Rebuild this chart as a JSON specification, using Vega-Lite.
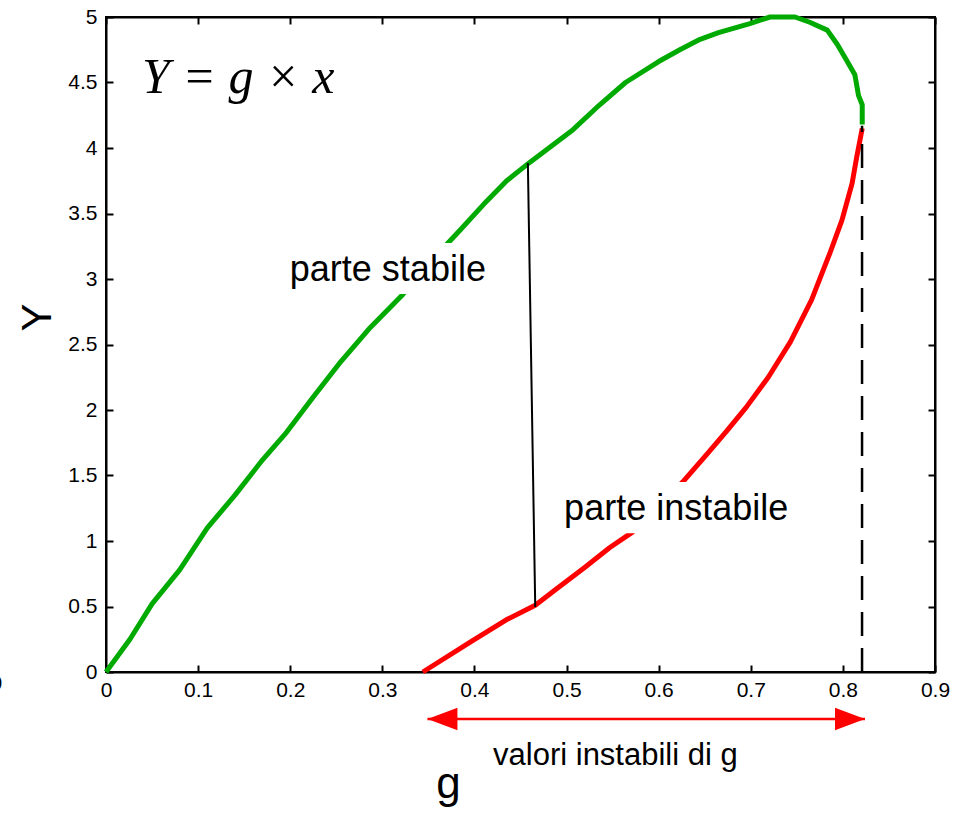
{
  "$schema": "https://vega.github.io/schema/vega-lite/v6.json",
  "autosize": "none",
  "width": 829,
  "height": 655,
  "padding": {"left": 106, "top": 17, "right": 35, "bottom": 143},
  "background": "white",
  "config": {
    "view": {"stroke": "black", "strokeWidth": 2},
    "font": "Liberation Sans",
    "axis": {
      "grid": false,
      "domainColor": "black",
      "domainWidth": 2,
      "tickColor": "black",
      "tickWidth": 2,
      "labelColor": "black",
      "labelFont": "Liberation Sans",
      "labelFontSize": 21,
      "labelFlush": false,
      "titleFont": "Liberation Sans",
      "titleFontWeight": "normal",
      "titleColor": "black"
    }
  },
  "datasets": {
    "curve": [
      {"part": "stabile", "ord": 0, "g": 0.0, "Y": 0.0},
      {"part": "stabile", "ord": 1, "g": 0.026, "Y": 0.25},
      {"part": "stabile", "ord": 2, "g": 0.05, "Y": 0.52},
      {"part": "stabile", "ord": 3, "g": 0.08, "Y": 0.78},
      {"part": "stabile", "ord": 4, "g": 0.11, "Y": 1.1},
      {"part": "stabile", "ord": 5, "g": 0.14, "Y": 1.35},
      {"part": "stabile", "ord": 6, "g": 0.17, "Y": 1.62},
      {"part": "stabile", "ord": 7, "g": 0.196, "Y": 1.83},
      {"part": "stabile", "ord": 8, "g": 0.225, "Y": 2.1},
      {"part": "stabile", "ord": 9, "g": 0.255, "Y": 2.37},
      {"part": "stabile", "ord": 10, "g": 0.287, "Y": 2.63},
      {"part": "stabile", "ord": 11, "g": 0.322, "Y": 2.88},
      {"part": "stabile", "ord": 12, "g": 0.352, "Y": 3.13},
      {"part": "stabile", "ord": 13, "g": 0.384, "Y": 3.37},
      {"part": "stabile", "ord": 14, "g": 0.41, "Y": 3.57},
      {"part": "stabile", "ord": 15, "g": 0.435, "Y": 3.75},
      {"part": "stabile", "ord": 16, "g": 0.46, "Y": 3.89},
      {"part": "stabile", "ord": 17, "g": 0.507, "Y": 4.14},
      {"part": "stabile", "ord": 18, "g": 0.536, "Y": 4.33},
      {"part": "stabile", "ord": 19, "g": 0.564, "Y": 4.5},
      {"part": "stabile", "ord": 20, "g": 0.6, "Y": 4.66},
      {"part": "stabile", "ord": 21, "g": 0.623, "Y": 4.75},
      {"part": "stabile", "ord": 22, "g": 0.645, "Y": 4.83},
      {"part": "stabile", "ord": 23, "g": 0.665, "Y": 4.88},
      {"part": "stabile", "ord": 24, "g": 0.699, "Y": 4.95},
      {"part": "stabile", "ord": 25, "g": 0.721, "Y": 5.0},
      {"part": "stabile", "ord": 26, "g": 0.748, "Y": 5.0},
      {"part": "stabile", "ord": 27, "g": 0.764, "Y": 4.96},
      {"part": "stabile", "ord": 28, "g": 0.783, "Y": 4.9},
      {"part": "stabile", "ord": 29, "g": 0.794, "Y": 4.79},
      {"part": "stabile", "ord": 30, "g": 0.804, "Y": 4.67},
      {"part": "stabile", "ord": 31, "g": 0.813, "Y": 4.56},
      {"part": "stabile", "ord": 32, "g": 0.817, "Y": 4.4},
      {"part": "stabile", "ord": 33, "g": 0.821, "Y": 4.33},
      {"part": "stabile", "ord": 34, "g": 0.821, "Y": 4.18},
      {"part": "instabile", "ord": 0, "g": 0.344, "Y": 0.0},
      {"part": "instabile", "ord": 1, "g": 0.398, "Y": 0.24},
      {"part": "instabile", "ord": 2, "g": 0.435, "Y": 0.4},
      {"part": "instabile", "ord": 3, "g": 0.466, "Y": 0.51},
      {"part": "instabile", "ord": 4, "g": 0.49, "Y": 0.64},
      {"part": "instabile", "ord": 5, "g": 0.52, "Y": 0.8},
      {"part": "instabile", "ord": 6, "g": 0.547, "Y": 0.95},
      {"part": "instabile", "ord": 7, "g": 0.572, "Y": 1.07},
      {"part": "instabile", "ord": 8, "g": 0.626, "Y": 1.45},
      {"part": "instabile", "ord": 9, "g": 0.652, "Y": 1.66},
      {"part": "instabile", "ord": 10, "g": 0.674, "Y": 1.84},
      {"part": "instabile", "ord": 11, "g": 0.695, "Y": 2.02},
      {"part": "instabile", "ord": 12, "g": 0.719, "Y": 2.25},
      {"part": "instabile", "ord": 13, "g": 0.743, "Y": 2.52},
      {"part": "instabile", "ord": 14, "g": 0.766, "Y": 2.84},
      {"part": "instabile", "ord": 15, "g": 0.786, "Y": 3.2},
      {"part": "instabile", "ord": 16, "g": 0.799, "Y": 3.45},
      {"part": "instabile", "ord": 17, "g": 0.81, "Y": 3.73},
      {"part": "instabile", "ord": 18, "g": 0.815, "Y": 3.93},
      {"part": "instabile", "ord": 19, "g": 0.821, "Y": 4.15}
    ],
    "link": [{"g": 0.458, "Y": 3.885, "g2": 0.466, "Y2": 0.496}],
    "limit": [{"g": 0.8208, "Y": 0, "Y2": 4.17}],
    "boxes": [
      {"g": 0.198, "g2": 0.418, "Y": 2.885, "Y2": 3.275},
      {"g": 0.49, "g2": 0.75, "Y": 1.06, "Y2": 1.45}
    ],
    "labels": [
      {"text": "parte stabile", "g": 0.306, "Y": 2.985},
      {"text": "parte instabile", "g": 0.619, "Y": 1.16}
    ],
    "range": [{"g": 0.349, "g2": 0.824, "Y": -0.359}],
    "heads": [
      {"side": "left", "g": 0.349, "Y": -0.359},
      {"side": "right", "g": 0.824, "Y": -0.359}
    ],
    "rangeLabel": [{"text": "valori instabili di g", "g": 0.553, "Y": -0.71}],
    "stray": [{"text": "0", "g": -0.119, "Y": -0.09}],
    "formula": [{"text": "Y = g × x", "g": 0.039, "Y": 4.42}]
  },
  "resolve": {"scale": {"x": "shared", "y": "shared"}, "axis": {"x": "independent", "y": "independent"}},
  "layer": [
    {
      "data": {"name": "curve"},
      "mark": {"type": "line", "strokeWidth": 5, "strokeJoin": "round"},
      "encoding": {
        "x": {
          "field": "g", "type": "quantitative",
          "scale": {"domain": [0, 0.9], "nice": false, "zero": false},
          "axis": {
            "orient": "bottom",
            "values": [0, 0.1, 0.2, 0.3, 0.4, 0.5, 0.6, 0.7, 0.8, 0.9],
            "format": "~g",
            "labelFontSize": 21,
            "labelFlush": false,
            "tickSize": -7,
            "labelPadding": 14,
            "title": "g",
            "titleFontSize": 44,
            "titleX": 342,
            "titleY": 125,
            "titleAlign": "center",
            "titleBaseline": "alphabetic"
          }
        },
        "y": {
          "field": "Y", "type": "quantitative",
          "scale": {"domain": [0, 5], "nice": false, "zero": false},
          "axis": {
            "orient": "left",
            "values": [0, 0.5, 1, 1.5, 2, 2.5, 3, 3.5, 4, 4.5, 5],
            "format": "~g",
            "labelFontSize": 21,
            "labelFlush": false,
            "tickSize": -7,
            "labelPadding": 16,
            "title": "Y",
            "titleFontSize": 42,
            "titleX": -69,
            "titleY": 300,
            "titleAlign": "center",
            "titleBaseline": "middle"
          }
        },
        "color": {
          "field": "part", "type": "nominal",
          "scale": {"domain": ["stabile", "instabile"], "range": ["#00aa00", "#ff0000"]},
          "legend": null
        },
        "detail": {"field": "part"},
        "order": {"field": "ord", "type": "quantitative"}
      }
    },
    {
      "data": {"name": "limit"},
      "mark": {"type": "rule", "color": "black", "strokeWidth": 2.5, "strokeDash": [24, 12]},
      "encoding": {
        "x": {
          "field": "g", "type": "quantitative",
          "axis": {
            "orient": "top",
            "values": [0, 0.1, 0.2, 0.3, 0.4, 0.5, 0.6, 0.7, 0.8, 0.9],
            "labels": false,
            "tickSize": -7,
            "title": null
          }
        },
        "y": {
          "field": "Y", "type": "quantitative",
          "axis": {
            "orient": "right",
            "values": [0, 0.5, 1, 1.5, 2, 2.5, 3, 3.5, 4, 4.5, 5],
            "labels": false,
            "tickSize": -7,
            "title": null
          }
        },
        "y2": {"field": "Y2"}
      }
    },
    {
      "data": {"name": "link"},
      "mark": {"type": "rule", "color": "black", "strokeWidth": 2},
      "encoding": {
        "x": {"field": "g", "type": "quantitative", "axis": null},
        "y": {"field": "Y", "type": "quantitative", "axis": null},
        "x2": {"field": "g2"},
        "y2": {"field": "Y2"}
      }
    },
    {
      "data": {"name": "boxes"},
      "mark": {"type": "rect", "fill": "white", "stroke": null},
      "encoding": {
        "x": {"field": "g", "type": "quantitative", "axis": null},
        "x2": {"field": "g2"},
        "y": {"field": "Y", "type": "quantitative", "axis": null},
        "y2": {"field": "Y2"}
      }
    },
    {
      "data": {"name": "labels"},
      "mark": {"type": "text", "font": "Liberation Sans", "fontSize": 36, "color": "black", "align": "center", "baseline": "alphabetic"},
      "encoding": {
        "x": {"field": "g", "type": "quantitative", "axis": null},
        "y": {"field": "Y", "type": "quantitative", "axis": null},
        "text": {"field": "text"}
      }
    },
    {
      "data": {"name": "range"},
      "mark": {"type": "rule", "color": "#ff0000", "strokeWidth": 2.5},
      "encoding": {
        "x": {"field": "g", "type": "quantitative", "axis": null},
        "x2": {"field": "g2"},
        "y": {"field": "Y", "type": "quantitative", "axis": null}
      }
    },
    {
      "data": {"name": "heads"},
      "mark": {"type": "point", "filled": true, "color": "#ff0000", "opacity": 1, "size": 900, "strokeWidth": 0},
      "encoding": {
        "x": {"field": "g", "type": "quantitative", "axis": null},
        "y": {"field": "Y", "type": "quantitative", "axis": null},
        "shape": {
          "field": "side", "type": "nominal",
          "scale": {"domain": ["left", "right"], "range": ["M0,0L2,-0.75L2,0.75Z", "M0,0L-2,-0.75L-2,0.75Z"]},
          "legend": null
        }
      }
    },
    {
      "data": {"name": "rangeLabel"},
      "mark": {"type": "text", "font": "Liberation Sans", "fontSize": 31, "color": "black", "align": "center", "baseline": "alphabetic"},
      "encoding": {
        "x": {"field": "g", "type": "quantitative", "axis": null},
        "y": {"field": "Y", "type": "quantitative", "axis": null},
        "text": {"field": "text"}
      }
    },
    {
      "data": {"name": "stray"},
      "mark": {"type": "text", "font": "Liberation Sans", "fontSize": 21, "color": "black", "align": "center", "baseline": "middle"},
      "encoding": {
        "x": {"field": "g", "type": "quantitative", "axis": null},
        "y": {"field": "Y", "type": "quantitative", "axis": null},
        "text": {"field": "text"}
      }
    },
    {
      "data": {"name": "formula"},
      "mark": {"type": "text", "font": "Liberation Serif", "fontStyle": "italic", "fontSize": 50, "color": "black", "align": "left", "baseline": "alphabetic"},
      "encoding": {
        "x": {"field": "g", "type": "quantitative", "axis": null},
        "y": {"field": "Y", "type": "quantitative", "axis": null},
        "text": {"field": "text"}
      }
    }
  ]
}
